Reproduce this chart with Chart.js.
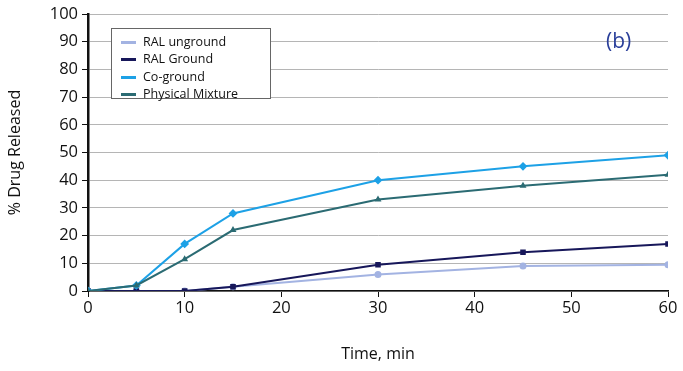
<!DOCTYPE html>
<html>
<head>
  <title>Drug release (b)</title>
  <script src="https://cdn.jsdelivr.net/npm/chart.js"></script>
  <style>
    body { margin: 0; background: #fff; }
    .wrap { position: relative; width: 683px; height: 371px; }
    .legend {
      position: absolute; left: 111px; top: 28px; width: 160px; height: 71px;
      background: #fff; border: 1px solid #666; box-sizing: border-box;
      font-family: "Open Sans", sans-serif; font-size: 12.5px; color: #111;
      padding: 4px 0 0 9px;
    }
    .legend div { height: 17.3px; line-height: 17px; white-space: nowrap; }
    .legend span { display: inline-block; width: 15px; height: 3px; margin-right: 7px; vertical-align: middle; }
    .tag { position: absolute; left: 606px; top: 26px; font-family: "Open Sans", sans-serif; font-size: 21px; color: #2a3f9a; }
  </style>
</head>
<body>
<div class="wrap">
  <canvas id="chartLine" width="683" height="371"></canvas>
  <div class="legend" id="legenda"></div>
  <div class="tag">(b)</div>
</div>
<script>
  // tempos de coleta (min)
  var tempos = [0, 5, 10, 15, 30, 45, 60];

  // % liberado
  var ralUnground = [0, 0, 0, 1.5, 6, 9, 9.5];
  var ralGround = [0, 0, 0, 1.5, 9.5, 14, 17];
  var coGround = [0, 2, 17, 28, 40, 45, 49];
  var mistura = [0, 2, 11.5, 22, 33, 38, 42];

  var nomes = ["RAL unground", "RAL Ground", "Co-ground", "Physical Mixture"];
  var cores = ["#a3b3e2", "#17175a", "#1da1e6", "#2b6b73"];
  var estilos = ["circle", "rect", "rectRot", "triangle"];
  var raios = [2.5, 2.5, 3, 2];
  var series = [ralUnground, ralGround, coGround, mistura];

  var datasets = [];
  for (var i = 0; i < series.length; i++) {
    datasets.push({
      label: nomes[i],
      data: tempos.map(function (t, j) { return { x: t, y: series[i][j] }; }),
      borderColor: cores[i],
      backgroundColor: cores[i],
      borderWidth: 2,
      pointStyle: estilos[i],
      pointRadius: raios[i],
      tension: 0,
    });
  }
  // desenha primeiro as de baixo
  datasets.reverse();

  var fonteTicks = { family: "Open Sans, sans-serif", size: 16.5 };
  var fonteTitulo = { family: "Open Sans, sans-serif", size: 16 };

  new Chart(document.getElementById("chartLine"), {
    type: "line",
    data: { datasets: datasets },
    options: {
      responsive: false,
      animation: false,
      layout: { padding: { top: 14, right: 15 } },
      plugins: { legend: { display: false }, tooltip: { enabled: false } },
      scales: {
        x: {
          type: "linear",
          min: 0, max: 60,
          ticks: { stepSize: 10, color: "#111", font: fonteTicks, padding: 1 },
          grid: { drawOnChartArea: false, tickLength: 6, tickColor: "#111" },
          border: { color: "#111", width: 1.5 },
          title: { display: true, text: "Time, min", color: "#111", font: fonteTitulo, padding: { top: 0, bottom: 7 } },
          afterFit: function (s) { s.height = 80; },
        },
        y: {
          min: 0, max: 100,
          ticks: { stepSize: 10, color: "#111", font: fonteTicks, padding: 4 },
          grid: { color: "#b5b5b5", tickLength: 6, tickColor: "#111" },
          border: { color: "#111", width: 2.5 },
          title: { display: true, text: "% Drug Released", color: "#111", font: fonteTitulo, padding: { top: 6, bottom: 0 } },
          afterFit: function (s) { s.width = 88; },
        },
      },
    },
  });

  var leg = document.getElementById("legenda");
  for (var k = 0; k < nomes.length; k++) {
    leg.innerHTML += '<div><span style="background:' + cores[k] + '"></span>' + nomes[k] + '</div>';
  }
</script>
</body>
</html>
